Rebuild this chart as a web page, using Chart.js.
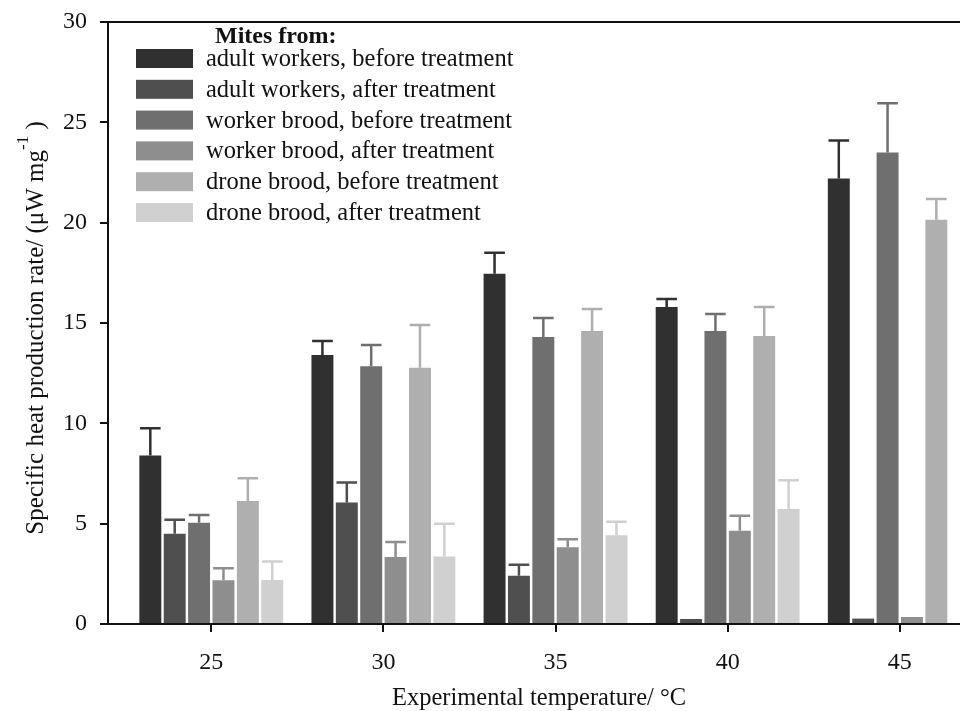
<!DOCTYPE html>
<html>
<head>
<meta charset="utf-8">
<title>Specific heat production rate of mites</title>
<script src="https://cdn.jsdelivr.net/npm/chart.js@4.4.1/dist/chart.umd.min.js"></script>
<style>
  html, body { margin: 0; padding: 0; background: #fff; overflow: hidden; }
  canvas { display: block; }
</style>
</head>
<body>
<canvas id="heatChart" width="960" height="711"></canvas>
<script>
// temperatures on the x axis
const temperatures = [25, 30, 35, 40, 45];
const xTicks = [25, 30, 35, 40, 45];
const yTicks = [0, 5, 10, 15, 20, 25, 30];

// mean values (uW mg-1) and upper error bars
const adultBefore = [8.4, 13.4, 17.45, 15.8, 22.2];
const adultBeforeErr = [1.35, 0.7, 1.05, 0.4, 1.9];
const adultAfter = [4.5, 6.05, 2.4, 0.25, 0.27];
const adultAfterErr = [0.7, 1.0, 0.55, 0, 0];
const workerBefore = [5.05, 12.85, 14.3, 14.6, 23.5];
const workerBeforeErr = [0.38, 1.05, 0.95, 0.85, 2.45];
const workerAfter = [2.18, 3.34, 3.82, 4.65, 0.35];
const workerAfterErr = [0.6, 0.75, 0.4, 0.75, 0];
const droneBefore = [6.13, 12.77, 14.6, 14.35, 20.15];
const droneBeforeErr = [1.13, 2.13, 1.1, 1.45, 1.03];
const droneAfter = [2.19, 3.37, 4.42, 5.73, 0];
const droneAfterErr = [0.93, 1.63, 0.68, 1.43, 0];

const seriesNames = [
  'adult workers, before treatment',
  'adult workers, after treatment',
  'worker brood, before treatment',
  'worker brood, after treatment',
  'drone brood, before treatment',
  'drone brood, after treatment'
];
const seriesValues = [adultBefore, adultAfter, workerBefore, workerAfter, droneBefore, droneAfter];
const seriesErrors = [adultBeforeErr, adultAfterErr, workerBeforeErr, workerAfterErr, droneBeforeErr, droneAfterErr];
const greys = ['#303030', '#4f4f4f', '#6f6f6f', '#8e8e8e', '#afafaf', '#d0d0d0'];

const serif = '"Liberation Serif", "DejaVu Serif", serif';
const axisColor = '#111';

// one-sided (upper) error bars
const errorBars = {
  id: 'errorBars',
  afterDatasetsDraw(chart) {
    const ctx = chart.ctx;
    const yScale = chart.scales.y;
    chart.data.datasets.forEach((ds, di) => {
      const meta = chart.getDatasetMeta(di);
      meta.data.forEach((bar, i) => {
        const err = ds.errors[i];
        if (!err) return;
        const p = bar.getProps(['x', 'y', 'width'], true);
        const top = yScale.getPixelForValue(ds.data[i].y + err);
        const half = p.width * 0.47;
        ctx.save();
        ctx.strokeStyle = ds.backgroundColor;
        ctx.lineWidth = 2.5;
        ctx.beginPath();
        ctx.moveTo(p.x, p.y);
        ctx.lineTo(p.x, top);
        ctx.moveTo(p.x - half, top);
        ctx.lineTo(p.x + half, top);
        ctx.stroke();
        ctx.restore();
      });
    });
  }
};

// frame top, axis titles, legend
const decorations = {
  id: 'decorations',
  afterDraw(chart) {
    const ctx = chart.ctx;
    const area = chart.chartArea;
    ctx.save();

    // top frame line
    ctx.strokeStyle = axisColor;
    ctx.lineWidth = 2;
    ctx.beginPath();
    ctx.moveTo(area.left, area.top);
    ctx.lineTo(area.right, area.top);
    ctx.stroke();

    ctx.fillStyle = '#111';
    ctx.textBaseline = 'middle';

    // x title
    ctx.font = '24.5px ' + serif;
    ctx.textAlign = 'center';
    ctx.fillText('Experimental temperature/ \u00b0C', 539, 699);

    // y title with superscript
    const main = 'Specific heat production rate/ (\u03bcW mg';
    const sup = '-1';
    const tail = ' )';
    ctx.font = '25px ' + serif;
    const wMain = ctx.measureText(main).width;
    const wTail = ctx.measureText(tail).width;
    ctx.font = '17px ' + serif;
    const wSup = ctx.measureText(sup).width;
    const total = wMain + wSup + wTail;
    ctx.translate(36, 328);
    ctx.rotate(-Math.PI / 2);
    ctx.textAlign = 'left';
    const x0 = -total / 2;
    ctx.font = '25px ' + serif;
    ctx.fillText(main, x0, 0);
    ctx.font = '17px ' + serif;
    ctx.fillText(sup, x0 + wMain, -12);
    ctx.font = '25px ' + serif;
    ctx.fillText(tail, x0 + wMain + wSup, 0);
    ctx.setTransform(1, 0, 0, 1, 0, 0);

    // legend
    ctx.textAlign = 'left';
    ctx.font = 'bold 24px ' + serif;
    ctx.fillText('Mites from:', 215, 37);
    ctx.font = '24.5px ' + serif;
    chart.data.datasets.forEach((ds, i) => {
      const cy = 58.5 + i * 30.8;
      ctx.fillStyle = ds.backgroundColor;
      ctx.fillRect(136, cy - 9.5, 57, 19);
      ctx.fillStyle = '#111';
      ctx.fillText(ds.label, 206, cy + 1);
    });
    ctx.restore();
  }
};

new Chart(document.getElementById('heatChart'), {
  type: 'bar',
  data: {
    datasets: seriesNames.map((name, s) => ({
      label: name,
      data: temperatures.map((t, i) => ({ x: t, y: seriesValues[s][i] })),
      errors: seriesErrors[s],
      backgroundColor: greys[s],
      borderWidth: 0,
      barPercentage: 0.9,
      categoryPercentage: 0.85
    }))
  },
  options: {
    responsive: false,
    animation: false,
    devicePixelRatio: 1,
    layout: { padding: { top: 22, left: 0, right: 0, bottom: 0 } },
    plugins: {
      legend: { display: false },
      tooltip: { enabled: false }
    },
    scales: {
      x: {
        type: 'linear',
        min: 22,
        max: 46.75,
        offset: false,
        afterBuildTicks: scale => { scale.ticks = xTicks.map(v => ({ value: v })); },
        afterFit: scale => {
          scale.height = 87;
          scale.paddingLeft = 0;
          scale.paddingRight = 0;
        },
        grid: {
          offset: false,
          drawOnChartArea: false,
          drawTicks: true,
          tickLength: 8,
          color: axisColor,
          lineWidth: 2
        },
        border: { display: true, color: axisColor, width: 2 },
        ticks: {
          color: '#111',
          padding: 16,
          maxRotation: 0,
          font: { family: serif, size: 24 }
        }
      },
      y: {
        min: 0,
        max: 30,
        afterBuildTicks: scale => { scale.ticks = yTicks.map(v => ({ value: v })); },
        afterFit: scale => {
          scale.width = 108;
          scale.paddingTop = 0;
          scale.paddingBottom = 0;
        },
        grid: {
          drawOnChartArea: false,
          drawTicks: true,
          tickLength: 8,
          color: axisColor,
          lineWidth: 2
        },
        border: { display: true, color: axisColor, width: 2 },
        ticks: {
          color: '#111',
          padding: 13,
          font: { family: serif, size: 24 }
        }
      }
    }
  },
  plugins: [errorBars, decorations]
});
</script>
</body>
</html>
